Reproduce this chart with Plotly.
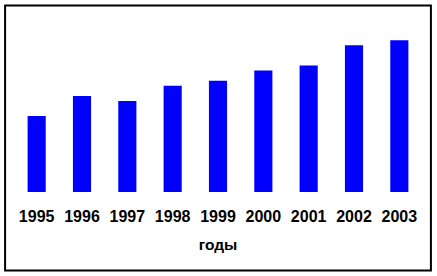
import plotly.graph_objects as go

years = ["1995", "1996", "1997", "1998", "1999", "2000", "2001", "2002", "2003"]
values = [15, 19, 18, 21, 22, 24, 25, 29, 30]
axis_title = "годы"

W, H = 437, 276
L, R, T, B = 14.4, 15.4, 20, 84
pw, ph = W - L - R, H - T - B

def px2paper_x(px):
    return (px - L) / pw

def px2paper_y(py):
    return (H - B - py) / ph

fig = go.Figure(go.Bar(x=years, y=values, marker=dict(color="#0000FF", line=dict(width=0)), width=0.4))

fig.update_layout(
    width=W, height=H,
    margin=dict(l=L, r=R, t=T, b=B, pad=0),
    paper_bgcolor="white", plot_bgcolor="white",
    showlegend=False,
    font=dict(family="Liberation Sans, Arial, sans-serif", color="black"),
    xaxis=dict(
        type="category",
        showgrid=False, zeroline=False, showline=False,
        ticks="outside", ticklen=10, tickcolor="rgba(0,0,0,0)",
        tickfont=dict(size=16, weight="bold", color="black"),
        title=dict(text=axis_title, font=dict(size=15.5, weight="bold", color="black"), standoff=14),
    ),
    yaxis=dict(range=[0, 34], visible=False),
    shapes=[dict(
        type="rect", xref="paper", yref="paper",
        x0=px2paper_x(5.5), x1=px2paper_x(430.5),
        y0=px2paper_y(270.5), y1=px2paper_y(5.5),
        line=dict(color="black", width=2), fillcolor="rgba(0,0,0,0)", layer="above",
    )],
)

fig.write_html("out.html")
